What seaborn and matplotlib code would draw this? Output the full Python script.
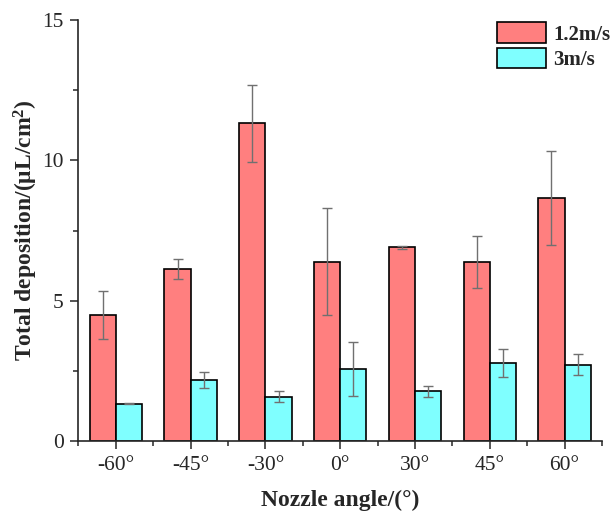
import numpy as np
import pandas as pd
import seaborn as sns
import matplotlib.pyplot as plt
from matplotlib.ticker import MultipleLocator, FixedLocator

angles = ['-60°', '-45°', '-30°', '0°', '30°', '45°', '60°']
speeds = ['1.2m/s', '3m/s']
dep_12 = [4.50, 6.13, 11.33, 6.39, 6.90, 6.39, 8.66]
err_12 = [0.85, 0.37, 1.37, 1.90, 0.07, 0.92, 1.66]
dep_3 = [1.34, 2.18, 1.59, 2.58, 1.78, 2.80, 2.73]
err_3 = [0.03, 0.28, 0.18, 0.97, 0.19, 0.50, 0.36]
colors = ['#FF7F7F', '#7FFFFF']

sns.set_style("ticks")
plt.rcParams['font.family'] = ['Liberation Serif', 'DejaVu Serif']
plt.rcParams['mathtext.fontset'] = 'custom'
plt.rcParams['mathtext.rm'] = 'Liberation Serif'
plt.rcParams['mathtext.bf'] = 'Liberation Serif:bold'

df = pd.DataFrame({
    'angle': angles * 2,
    'speed': [speeds[0]] * len(angles) + [speeds[1]] * len(angles),
    'dep': dep_12 + dep_3,
    'err': err_12 + err_3,
})

fig = plt.figure(figsize=(6.13, 5.16), dpi=100)
ax = fig.add_axes([0.128, 0.145, 0.854, 0.816])

sns.barplot(data=df, x='angle', y='dep', hue='speed', order=angles, hue_order=speeds,
            palette=colors, saturation=1, width=0.7, edgecolor='black', linewidth=1.2,
            errorbar=None, ax=ax, legend=True)

# error bars, placed on the centre of each bar patch
for i, sp in enumerate(speeds):
    cont = ax.containers[i]
    sub = df[df['speed'] == sp].set_index('angle').loc[angles]
    xs = [p.get_x() + p.get_width() / 2 for p in cont.patches]
    ax.errorbar(xs, sub['dep'].values, yerr=sub['err'].values, fmt='none',
                ecolor='#707070', elinewidth=1.0, capsize=3.3, capthick=1.0, zorder=5)

ax.set_ylim(0, 15)
ax.set_xlim(-0.5, len(angles) - 0.5)
ax.yaxis.set_major_locator(MultipleLocator(5))
ax.yaxis.set_minor_locator(MultipleLocator(2.5))
ax.xaxis.set_minor_locator(FixedLocator(np.arange(-0.5, len(angles), 1.0)))
ax.tick_params(axis='x', which='major', length=6, width=1.1, pad=5, labelsize=15.5)
ax.tick_params(axis='x', which='minor', length=3.5, width=1.1)
ax.tick_params(axis='y', which='major', length=5.5, width=1.1, pad=5, labelsize=15.5)
ax.tick_params(axis='y', which='minor', length=3.5, width=1.1)
for s in ['left', 'bottom']:
    ax.spines[s].set_linewidth(1.2)
sns.despine(ax=ax)

ax.set_xlabel('Nozzle angle/(°)', fontsize=17, fontweight='bold', labelpad=10)
ax.set_ylabel(r'Total deposition/(μL/cm$\mathbf{^2}$)', fontsize=17, fontweight='bold', labelpad=2)

ax.legend(loc='upper left', bbox_to_anchor=(0.80, 0.995), frameon=False,
          prop={'weight': 'bold', 'size': 15}, handlelength=2.35, handleheight=1.15,
          handletextpad=0.33, labelspacing=0.15, borderaxespad=0.0, borderpad=0.0)

fig.savefig('out.png', dpi=100)
